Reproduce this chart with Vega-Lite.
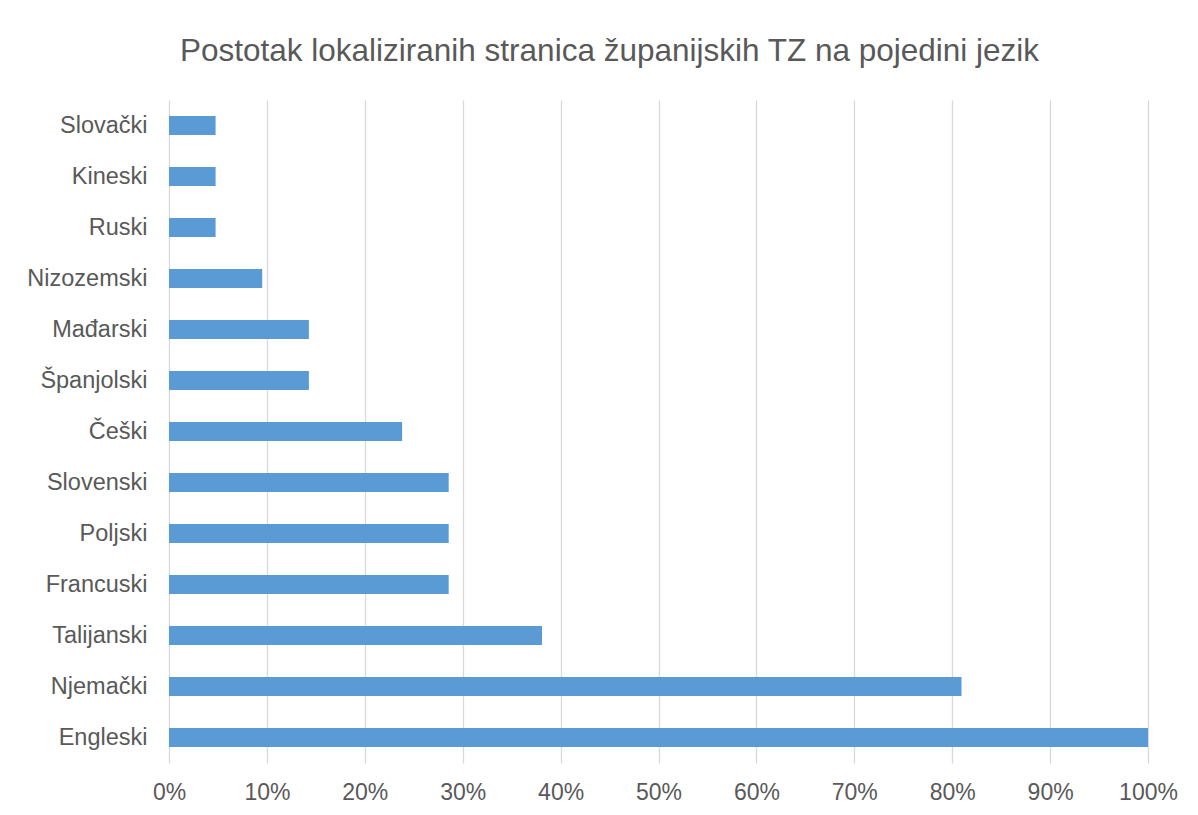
{
  "$schema": "https://vega.github.io/schema/vega-lite/v6.json",
  "autosize": {"type": "none"},
  "width": 979,
  "height": 663,
  "padding": {"left": 169, "top": 100, "right": 50, "bottom": 52},
  "background": "white",
  "title": {
    "text": "Postotak lokaliziranih stranica županijskih TZ na pojedini jezik",
    "anchor": "middle",
    "frame": "group",
    "dx": -49,
    "offset": 8,
    "baseline": "alphabetic",
    "font": "Liberation Sans",
    "fontSize": 31.5,
    "fontWeight": "normal",
    "color": "#595959"
  },
  "data": {
    "values": [
      {"jezik": "Slovački", "postotak": 0.0476},
      {"jezik": "Kineski", "postotak": 0.0476},
      {"jezik": "Ruski", "postotak": 0.0476},
      {"jezik": "Nizozemski", "postotak": 0.0952},
      {"jezik": "Mađarski", "postotak": 0.1429},
      {"jezik": "Španjolski", "postotak": 0.1429},
      {"jezik": "Češki", "postotak": 0.2381},
      {"jezik": "Slovenski", "postotak": 0.2857},
      {"jezik": "Poljski", "postotak": 0.2857},
      {"jezik": "Francuski", "postotak": 0.2857},
      {"jezik": "Talijanski", "postotak": 0.381},
      {"jezik": "Njemački", "postotak": 0.8095},
      {"jezik": "Engleski", "postotak": 1.0}
    ]
  },
  "mark": {"type": "bar", "color": "#5b9bd5"},
  "encoding": {
    "y": {
      "field": "jezik",
      "type": "nominal",
      "sort": null,
      "scale": {"paddingInner": 0.63, "paddingOuter": 0.315},
      "axis": {
        "title": null,
        "domain": false,
        "ticks": false,
        "grid": false,
        "labelFont": "Liberation Sans",
        "labelFontSize": 23.5,
        "labelColor": "#595959",
        "labelPadding": 22
      }
    },
    "x": {
      "field": "postotak",
      "type": "quantitative",
      "scale": {"domain": [0, 1], "nice": false},
      "axis": {
        "title": null,
        "values": [0, 0.1, 0.2, 0.3, 0.4, 0.5, 0.6, 0.7, 0.8, 0.9, 1.0],
        "format": ".0%",
        "domain": false,
        "ticks": false,
        "grid": true,
        "gridColor": "#d9d9d9",
        "gridWidth": 1.3,
        "labelFont": "Liberation Sans",
        "labelFontSize": 23,
        "labelColor": "#595959",
        "labelPadding": 18,
        "labelFlush": false
      }
    }
  },
  "config": {"view": {"stroke": null}}
}
